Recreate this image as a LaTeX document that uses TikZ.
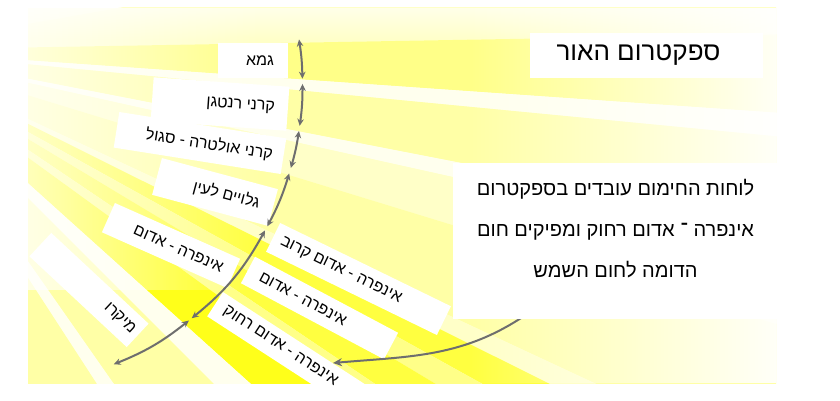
\documentclass[tikz,border=0pt]{standalone}
\usepackage{fontspec}
\setmainfont{Liberation Sans}
\newfontfamily\heb[Script=Hebrew]{Liberation Sans}
\TeXXeTstate=1
\usetikzlibrary{arrows.meta,fadings,calc}
\tikzfading[name=fadeR, left color=transparent!100, right color=transparent!0]
\tikzfading[name=fadeL, left color=transparent!0, right color=transparent!100]
\tikzfading[name=fadeT, top color=transparent!0, bottom color=transparent!100]
\definecolor{arrowgray}{HTML}{6E6E6E}
\definecolor{ybase}{HTML}{FFFFD6}
\definecolor{yW}{HTML}{FFFFEE}
\definecolor{yA}{HTML}{FFFFC8}
\definecolor{yB}{HTML}{FFFFA6}
\definecolor{yC}{HTML}{FFFF88}
\definecolor{yE}{HTML}{FFFF40}
\definecolor{yF}{HTML}{FFFF1A}
\tikzset{
  lbl/.style={fill=white, inner sep=0pt, font=\heb\fontsize{16}{19}\selectfont},
  dbl/.style={draw=arrowgray, line width=2pt, {Stealth[length=7pt,width=6.5pt]}-{Stealth[length=7pt,width=6.5pt]}},
  curvarr/.style={draw=arrowgray, line width=2pt, -{Stealth[length=9pt,width=8pt]}},
  titlebox/.style={fill=white, inner sep=0pt, font=\heb\fontsize{26}{30}\selectfont},
  descbox/.style={fill=white, inner sep=0pt, font=\heb\fontsize{20}{41}\selectfont}
}
\begin{document}
\begin{tikzpicture}[x=1pt,y=1pt]
\useasboundingbox (0,0) rectangle (840,-401);
\fill[white] (0,0) rectangle (840,-401);
% background rays
\begin{scope}
  \clip (28,-8) rectangle (776,-383);
  \fill[ybase] (28,-8) rectangle (776,-383);
  \coordinate (S) at (-120,-50);
  \foreach \a/\b/\c in {10/1/yA, 1/-4/yC, -4/-5.5/yW, -5.5/-11/yB, -11/-12.5/yW,
     -12.5/-17/yA, -17/-25/yB, -25/-26.5/yA, -26.5/-29/yE, -29/-31/yC, -31/-34/yE,
     -34/-36/yC, -36/-42/yF, -42/-45/yW, -45/-55/yB, -55/-57/yW, -57/-80/yB}
    \fill[\c] (S) -- +(\a:1400) -- +(\b:1400) -- cycle;
  \fill[white, path fading=fadeL, opacity=0.7] (28,-8) rectangle (260,-290);
  \fill[white, path fading=fadeR, opacity=0.92] (470,-8) rectangle (776,-383);
  \fill[white, path fading=fadeT, opacity=0.6] (28,-8) rectangle (776,-40);
\end{scope}

% left labels
\node[lbl, minimum height=35pt] (gamma) at (253,-60.5) {\makebox[70pt][r]{\beginR גמא\endR\hspace{14pt}}};
\node[lbl, minimum height=44pt, rotate=-4] (xray) at (220,-104) {\makebox[136pt][r]{\beginR קרני רנטגן\endR\hspace{13pt}}};
\node[lbl, minimum height=36pt, rotate=-9] (uv) at (200,-143) {\makebox[169pt][r]{\beginR קרני אולטרה - סגול\endR\hspace{11pt}}};
\node[lbl, minimum height=38pt, rotate=-15] (vis) at (215,-192) {\makebox[120pt][r]{\beginR גלויים לעין\endR\hspace{14pt}}};
\node[lbl, minimum height=32pt, rotate=-24] (irL) at (171,-245.5) {\makebox[137pt][r]{\beginR אינפרה - אדום\endR\hspace{12pt}}};
\node[lbl, minimum height=32pt, rotate=-43] (micro) at (89,-290) {\makebox[133pt][r]{\beginR מיקרו\endR\hspace{6pt}}};
% right labels
\node[lbl, minimum height=32pt, rotate=-26] (near) at (358.5,-279) {\makebox[190pt][l]{\hspace{9pt}\beginR אינפרה - אדום קרוב\endR}};
\node[lbl, minimum height=30pt, rotate=-28] (mid) at (319.5,-308) {\makebox[162pt][l]{\hspace{14pt}\beginR אינפרה - אדום\endR}};
\node[lbl, minimum height=29pt, rotate=-33] (far) at (286.4,-350.5) {\makebox[170pt][l]{\hspace{11pt}\beginR אינפרה - אדום רחוק\endR}};

% arc arrows
\coordinate (O) at (1.5,-85);
\coordinate (p1) at ($(O)+(8.7:301)$);
\coordinate (p2) at ($(O)+(1.2:301)$);
\coordinate (p3) at ($(O)+(0.2:301)$);
\coordinate (p4) at ($(O)+(-7.8:301)$);
\coordinate (p5) at ($(O)+(-8.8:301)$);
\coordinate (p6) at ($(O)+(-16:301)$);
\coordinate (p7) at ($(O)+(-17.1:301)$);
\coordinate (p8) at ($(O)+(-28:301)$);
\coordinate (p9) at ($(O)+(-28.9:301)$);
\coordinate (p10) at ($(O)+(-50.8:301)$);
\coordinate (p11) at ($(O)+(-51.5:301)$);
\coordinate (p12) at ($(O)+(-68.1:301)$);
\draw[dbl] (p1) to[bend left=3.75] (p2);
\draw[dbl] (p3) to[bend left=4] (p4);
\draw[dbl] (p5) to[bend left=3.6] (p6);
\draw[dbl] (p7) to[bend left=5.5] (p8);
\draw[dbl] (p9) to[bend left=11] (p10);
\draw[dbl] (p11) to[bend left=8.3] (p12);

% curved arrow from description box
\coordinate (cs) at (530,-312);
\coordinate (ce) at (333,-363);
\draw[curvarr] (cs) to[out=215, in=5] (ce);

% title and description
\node[titlebox, minimum width=233pt, minimum height=45pt] (title) at (646.5,-55.5) {\makebox[233pt][c]{\beginR ספקטרום האור\endR\hspace{16pt}}};
\node[descbox] (desc) at (615.5,-241) {\parbox[c][156pt][t]{325pt}{\centering
\rule{0pt}{32pt}\beginR לוחות החימום עובדים בספקטרום\endR\\
\beginR אינפרה ־ אדום רחוק ומפיקים חום\endR\\
\beginR הדומה לחום השמש\endR}};
\end{tikzpicture}
\end{document}
